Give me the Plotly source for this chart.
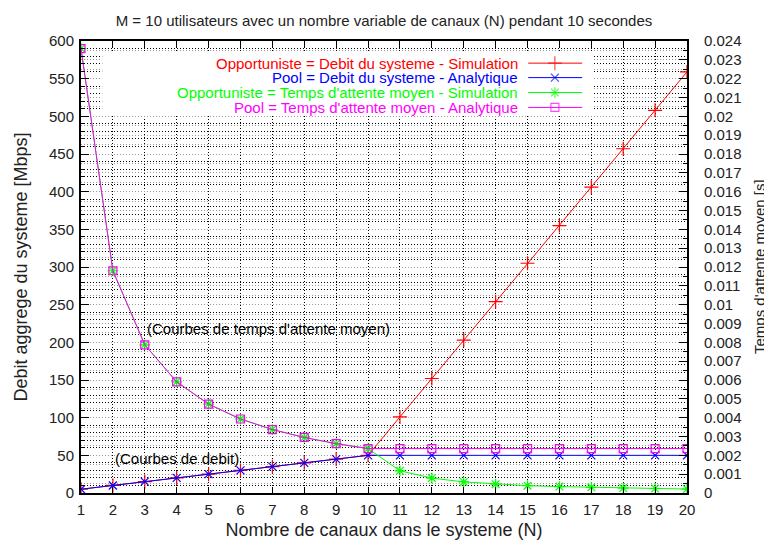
import plotly.graph_objects as go

# nombre de canaux
canaux = list(range(1, 21))

# debit agrege [Mbps]
debit_opportuniste_sim = [5, 10, 15, 20, 25, 30, 35, 40, 45, 50,
                          101, 152, 203, 254, 305, 355, 406, 457, 508, 559]
debit_pool_ana = [5, 10, 15, 20, 25, 30, 35, 40, 45, 50,
                  50, 50, 50, 50, 50, 50, 50, 50, 50, 50]

# temps d'attente moyen [s]
attente_opportuniste_sim = [0.0236, 0.0118, 0.00787, 0.0059, 0.00472, 0.00393, 0.00337, 0.00295, 0.00262, 0.00236,
                            0.00118, 0.00079, 0.00059, 0.00047, 0.00039, 0.00034, 0.0003, 0.00026, 0.00024, 0.00021]
attente_pool_ana = [0.0236, 0.0118, 0.00787, 0.0059, 0.00472, 0.00393, 0.00337, 0.00295, 0.00262, 0.00236,
                    0.00236, 0.00236, 0.00236, 0.00236, 0.00236, 0.00236, 0.00236, 0.00236, 0.00236, 0.00236]

noms = ['Opportuniste = Debit du systeme - Simulation',
        'Pool = Debit du systeme - Analytique',
        "Opportuniste = Temps d'attente moyen - Simulation",
        "Pool = Temps d'attente moyen - Analytique"]
couleurs = ['#ff0000', '#0000ff', '#00ff00', '#ff00ff']
symboles = ['cross-thin', 'x-thin', 'asterisk-open', 'square-open']
tailles = [10, 8, 9, 8]

FONT = 'Liberation Sans, Arial, sans-serif'
font_size = 15

series = [(debit_opportuniste_sim, 'y'), (debit_pool_ana, 'y'),
          (attente_opportuniste_sim, 'y2'), (attente_pool_ana, 'y2')]

fig = go.Figure()
for i, (vals, yax) in enumerate(series):
    fig.add_trace(go.Scatter(
        x=canaux, y=vals, yaxis=yax, mode='lines+markers', name=noms[i],
        line=dict(color=couleurs[i], width=1),
        marker=dict(symbol=symboles[i], size=tailles[i], color=couleurs[i],
                    line=dict(color=couleurs[i], width=1.2)),
        showlegend=False))

# fond blanc de la legende (cache la grille)
fig.add_trace(go.Scatter(
    x=[0.035, 0.845, 0.845, 0.035, 0.035], y=[0.838, 0.838, 0.978, 0.978, 0.838],
    xaxis='x3', yaxis='y3', mode='lines', fill='toself', fillcolor='white',
    line=dict(width=0, color='white'), showlegend=False, hoverinfo='skip'))

# legende a la gnuplot (texte aligne a droite, echantillon a droite)
rows = [0.951, 0.919, 0.886, 0.853]
for i in range(4):
    fig.add_trace(go.Scatter(
        x=[0.738, 0.782, 0.827], y=[rows[i]] * 3, xaxis='x3', yaxis='y3',
        mode='lines+markers', line=dict(color=couleurs[i], width=1),
        marker=dict(symbol=symboles[i], size=[0, tailles[i], 0], color=couleurs[i],
                    line=dict(color=couleurs[i], width=1.2)),
        showlegend=False, hoverinfo='skip'))
    fig.add_annotation(xref='x domain', yref='y domain', x=0.722, y=rows[i],
                       xanchor='right', yanchor='middle', showarrow=False, borderpad=0,
                       text=noms[i], font=dict(color=couleurs[i], size=font_size, family=FONT))

fig.add_annotation(x=3, y=218, xanchor='left', yanchor='middle', showarrow=False,
                   text="(Courbes de temps d'attente moyen)", font=dict(size=font_size, color='black'))
fig.add_annotation(x=2, y=46, xanchor='left', yanchor='middle', showarrow=False,
                   text='(Courbes de debit)', font=dict(size=font_size, color='black'))

# titre de l'axe de droite
fig.add_annotation(xref='paper', yref='paper', x=1, y=0.5, xshift=72, xanchor='center', yanchor='middle',
                   textangle=-90, showarrow=False, borderpad=0,
                   text="Temps d'attente moyen [s]", font=dict(size=font_size, color='#222222'))

dots = '1px,2px'
# la page decale la figure de 8 px (marge du body)
fig.update_layout(
    width=764, height=533,
    margin=dict(l=73, r=85, t=33, b=48),
    paper_bgcolor='white', plot_bgcolor='white',
    font=dict(family=FONT, size=font_size, color='#222222'),
    title=dict(text='M = 10 utilisateurs avec un nombre variable de canaux (N) pendant 10 secondes',
               x=0.5, xref='paper', xanchor='center', y=0.977, yanchor='middle',
               font=dict(size=font_size, family=FONT, color='#222222')),
    xaxis=dict(range=[1, 20], dtick=1, tick0=1, ticks='inside', ticklen=6, tickcolor='black',
               showline=True, linecolor='black', linewidth=2, mirror='ticks', automargin=False,
               showgrid=True, gridcolor='black', griddash=dots, gridwidth=1, zeroline=False,
               title=dict(text='Nombre de canaux dans le systeme (N)', standoff=6),
               ticklabelstandoff=2),
    yaxis=dict(range=[0, 600], dtick=50, ticks='inside', ticklen=8, tickcolor='black',
               showline=True, linecolor='black', linewidth=2, automargin=False,
               showgrid=True, gridcolor='black', griddash=dots, gridwidth=1, zeroline=False,
               minor=dict(dtick=10, ticks='inside', ticklen=4, tickcolor='black',
                          showgrid=True, gridcolor='black', griddash=dots, gridwidth=1),
               title=dict(text='Debit aggrege du systeme [Mbps]', standoff=17),
               ticklabelstandoff=2),
    yaxis2=dict(range=[0, 0.024], dtick=0.001, overlaying='y', side='right',
                ticks='inside', ticklen=8, tickcolor='black', automargin=False,
                showline=True, linecolor='black', linewidth=2,
                showgrid=True, gridcolor='#999999', griddash=dots, gridwidth=1, zeroline=False,
                minor=dict(dtick=0.0005, ticks='inside', ticklen=4, tickcolor='black',
                           showgrid=True, gridcolor='#999999', griddash=dots, gridwidth=1),
                ticklabelstandoff=12),
    xaxis3=dict(overlaying='x', range=[0, 1], visible=False),
    yaxis3=dict(overlaying='y', range=[0, 1], visible=False),
)

fig.write_html('out.html')
